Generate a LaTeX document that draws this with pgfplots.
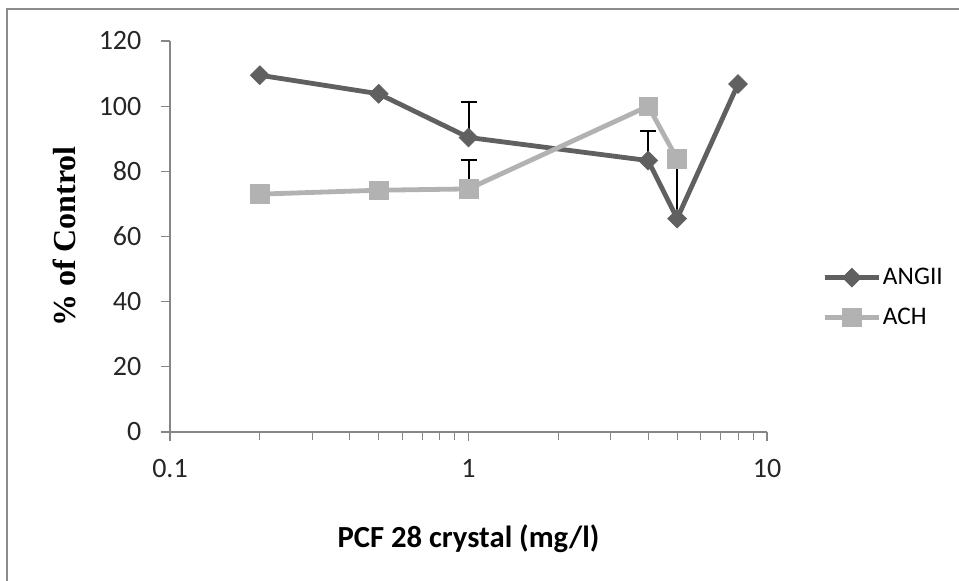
\documentclass[border=0pt]{standalone}
\usepackage{fontspec}
\setmainfont{Carlito}
\newfontfamily\timesfont{Liberation Serif}
\usepackage{pgfplots}
\pgfplotsset{compat=1.18}

\definecolor{angii}{HTML}{606060}
\definecolor{ach}{HTML}{B2B2B2}
\definecolor{axisgray}{HTML}{868686}
\definecolor{framegray}{HTML}{8C8C8C}

\begin{document}
\begin{tikzpicture}
% page area and outer frame (top and left edges)
\useasboundingbox (0,0) rectangle (719.25pt,-435.75pt);
\draw[framegray, line width=1.6pt] (5.25pt,-435.75pt) -- (5.25pt,-6.75pt) -- (719.25pt,-6.75pt);

\begin{axis}[
  at={(127.5pt,-324pt)}, anchor=south west,
  scale only axis, width=447.75pt, height=293.25pt,
  xmode=log, xmin=0.1, xmax=10,
  ymin=0, ymax=120, ytick={0,20,...,120},
  axis x line=bottom, axis y line=left,
  axis line style={axisgray, line width=0.8pt, -},
  tick style={axisgray, line width=0.8pt},
  tick align=outside,
  major tick length=7pt, minor tick length=6pt,
  xtick={0.1,1,10}, xticklabels={0.1,1,10},
  log ticks with fixed point,
  ticklabel style={font=\fontsize{21}{24}\selectfont, text=black!85},
  /pgf/number format/assume math mode=true,
  xticklabel style={yshift=-10pt},
  yticklabel style={xshift=-11pt},
  xlabel={\fontsize{23}{26}\selectfont\bfseries PCF 28 crystal (mg/l)},
  xlabel style={yshift=-28pt},
  ylabel={\timesfont\fontsize{24}{27}\selectfont\bfseries \% of Control},
  ylabel style={yshift=10pt},
  legend style={at={(1.092,0.344)}, anchor=west, draw=none, fill=none,
    inner sep=0pt, font=\fontsize{19}{22}\selectfont, row sep=14pt,
    nodes={inner sep=1pt}},
  legend cell align=left,
  legend image code/.code={%
    \draw[mark repeat=2,mark phase=2] plot coordinates {(0pt,0pt)(20.5pt,0pt)(41pt,0pt)};},
  clip=false,
]
% ANGII with upper error bars
\addplot[angii, line width=3.6pt, mark=square*, mark size=5pt,
  mark options={rotate=45, solid, line width=0.5pt},
  error bars/.cd, y dir=plus, y explicit,
  error bar style={black, line width=1.5pt}, error mark options={black, rotate=90, mark size=6pt, line width=1.5pt}]
  coordinates {
  (0.2,109.5) +- (0,0)
  (0.5,103.8) +- (0,0)
  (1,90.4) +- (0,11)
  (4,83.3) +- (0,9)
  (5,65.5) +- (0,18)
  (8,106.8) +- (0,0)
  };
\addlegendentry{ANGII}
% ACH with upper error bars
\addplot[ach, line width=3.6pt, mark=square*, mark size=7pt,
  mark options={solid, line width=0.5pt},
  error bars/.cd, y dir=plus, y explicit,
  error bar style={black, line width=1.5pt}, error mark options={black, rotate=90, mark size=6pt, line width=1.5pt}]
  coordinates {
  (0.2,73) +- (0,0)
  (0.5,74.2) +- (0,0)
  (1,74.6) +- (0,9)
  (4,100) +- (0,0)
  (5,83.8) +- (0,0)
  };
\addlegendentry{ACH}
\end{axis}
\end{tikzpicture}
\end{document}
